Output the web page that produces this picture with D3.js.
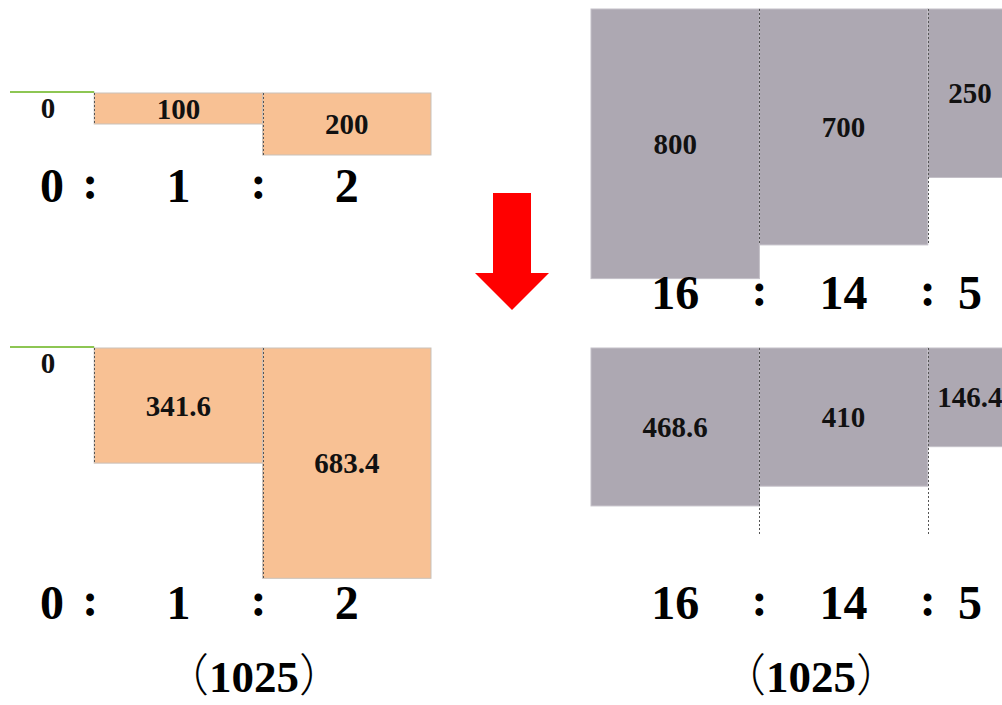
<!DOCTYPE html>
<html>
<head>
<meta charset="utf-8">
<script src="https://cdn.jsdelivr.net/npm/d3@7"></script>
<style>
  html, body { margin: 0; padding: 0; background: #fff; overflow: hidden; }
  svg { display: block; }
</style>
</head>
<body>
<svg id="chart" width="1002" height="705"></svg>
<script>
// ---- data ----
const ratioLeft = ["0", "1", "2"];
const ratioRight = ["16", "14", "5"];
const valuesTopLeft = [0, 100, 200];
const valuesBottomLeft = [0, 341.6, 683.4];
const valuesTopRight = [800, 700, 250];
const valuesBottomRight = [468.6, 410, 146.4];
const totalLabel = "1025";

// ---- layout ----
const svg = d3.select("#chart");
const serif = "'Liberation Serif', 'Times New Roman', Tinos, serif";
const ORANGE = "#F8C194", ORANGE_EDGE = "#c9c1ba";
const GRAY = "#ADA8B2", GRAY_EDGE = "#c4c0c8";

const panels = [
  { values: valuesTopLeft, ratios: ratioLeft, span: [1, 2, 2], xr: [10, 431], top: 93,
    yMax: 310, fill: ORANGE, edge: ORANGE_EDGE, ratioBase: 202, guide: "own", colonDx: -4 },
  { values: valuesBottomLeft, ratios: ratioLeft, span: [1, 2, 2], xr: [10, 431], top: 348,
    yMax: 337, fill: ORANGE, edge: ORANGE_EDGE, ratioBase: 619, guide: "own", colonDx: -4 },
  { values: valuesTopRight, ratios: ratioRight, span: [2, 2, 1], xr: [591, 1012], top: 9,
    yMax: 337, fill: GRAY, edge: GRAY_EDGE, ratioBase: 309, guide: "middle", colonDx: 0 },
  { values: valuesBottomRight, ratios: ratioRight, span: [2, 2, 1], xr: [591, 1012], top: 348,
    yMax: 337, fill: GRAY, edge: GRAY_EDGE, ratioBase: 619, guide: "extend", colonDx: 0 }
];

panels.forEach(p => {
  const total = d3.sum(p.span);
  const x = d3.scaleLinear().domain([0, total]).range(p.xr);
  const y = d3.scaleLinear().domain([0, 1000]).range([0, p.yMax]);
  const cum = [0];
  p.span.forEach((s, i) => cum.push(cum[i] + s));
  const cells = p.values.map((v, i) => ({
    v, i,
    x0: x(cum[i]), x1: x(cum[i + 1]),
    h: y(v) * 2 / p.span[i]
  }));

  const g = svg.append("g");

  // bars
  g.selectAll("rect.bar").data(cells.filter(c => c.v > 0)).join("rect")
    .attr("class", "bar")
    .attr("x", c => c.x0).attr("y", p.top)
    .attr("width", c => c.x1 - c.x0).attr("height", c => c.h)
    .attr("fill", p.fill).attr("stroke", p.edge).attr("stroke-width", 1);

  // zero bars shown as green line
  g.selectAll("line.zero").data(cells.filter(c => c.v === 0)).join("line")
    .attr("class", "zero")
    .attr("x1", c => c.x0).attr("x2", c => c.x1)
    .attr("y1", p.top - 1).attr("y2", p.top - 1)
    .attr("stroke", "#8DC653").attr("stroke-width", 2.2);

  // dashed guides at internal boundaries
  const guides = cells.slice(1).map(c => {
    let len;
    if (p.guide === "own") len = c.h;
    else if (p.guide === "middle") len = cells[1].h;
    else len = 187;
    return { x: Math.round(c.x0) + 0.5, len };
  });
  g.selectAll("line.guide").data(guides).join("line")
    .attr("class", "guide")
    .attr("x1", d => d.x).attr("x2", d => d.x)
    .attr("y1", p.top).attr("y2", d => p.top + d.len)
    .attr("stroke", "#555").attr("stroke-width", 1)
    .attr("stroke-dasharray", "2,2");

  // value labels
  g.selectAll("text.val").data(cells).join("text")
    .attr("class", "val")
    .attr("x", c => (c.x0 + c.x1) / 2 - (c.v === 0 ? 4 : 0))
    .attr("y", c => c.v === 0 ? p.top + 25 : p.top + c.h / 2 + 10)
    .attr("text-anchor", "middle")
    .attr("font-family", serif).attr("font-weight", "bold").attr("font-size", 29)
    .attr("fill", "#111")
    .text(c => String(c.v));

  // ratio labels: numbers at column centres, colons at boundaries
  g.selectAll("text.ratio").data(cells).join("text")
    .attr("class", "ratio")
    .attr("x", c => (c.x0 + c.x1) / 2)
    .attr("y", p.ratioBase)
    .attr("text-anchor", "middle")
    .attr("font-family", serif).attr("font-weight", "bold").attr("font-size", 48)
    .attr("fill", "#000")
    .text((c, i) => p.ratios[i]);
  g.selectAll("text.colon").data(cells.slice(1)).join("text")
    .attr("class", "colon")
    .attr("x", c => c.x0 + p.colonDx)
    .attr("y", p.ratioBase - 3)
    .attr("text-anchor", "middle")
    .attr("font-family", serif).attr("font-weight", "bold").attr("font-size", 48)
    .attr("fill", "#000")
    .text(":");
});

// totals
[254, 811].forEach(cx => {
  const t = svg.append("text")
    .attr("x", cx).attr("y", 692)
    .attr("text-anchor", "middle")
    .attr("font-size", 45).attr("fill", "#000")
    .attr("font-family", serif);
  t.append("tspan").attr("font-family", "'Noto Sans CJK SC', sans-serif").attr("font-weight", "300").text("（");
  t.append("tspan").attr("font-weight", "bold").text(totalLabel);
  t.append("tspan").attr("font-family", "'Noto Sans CJK SC', sans-serif").attr("font-weight", "300").text("）");
});

// red arrow
const arrow = d3.path();
arrow.moveTo(493, 193);
arrow.lineTo(531, 193);
arrow.lineTo(531, 273);
arrow.lineTo(549, 273);
arrow.lineTo(512, 310);
arrow.lineTo(475, 273);
arrow.lineTo(493, 273);
arrow.closePath();
svg.append("path").attr("d", arrow.toString()).attr("fill", "#FF0000");
</script>
</body>
</html>
